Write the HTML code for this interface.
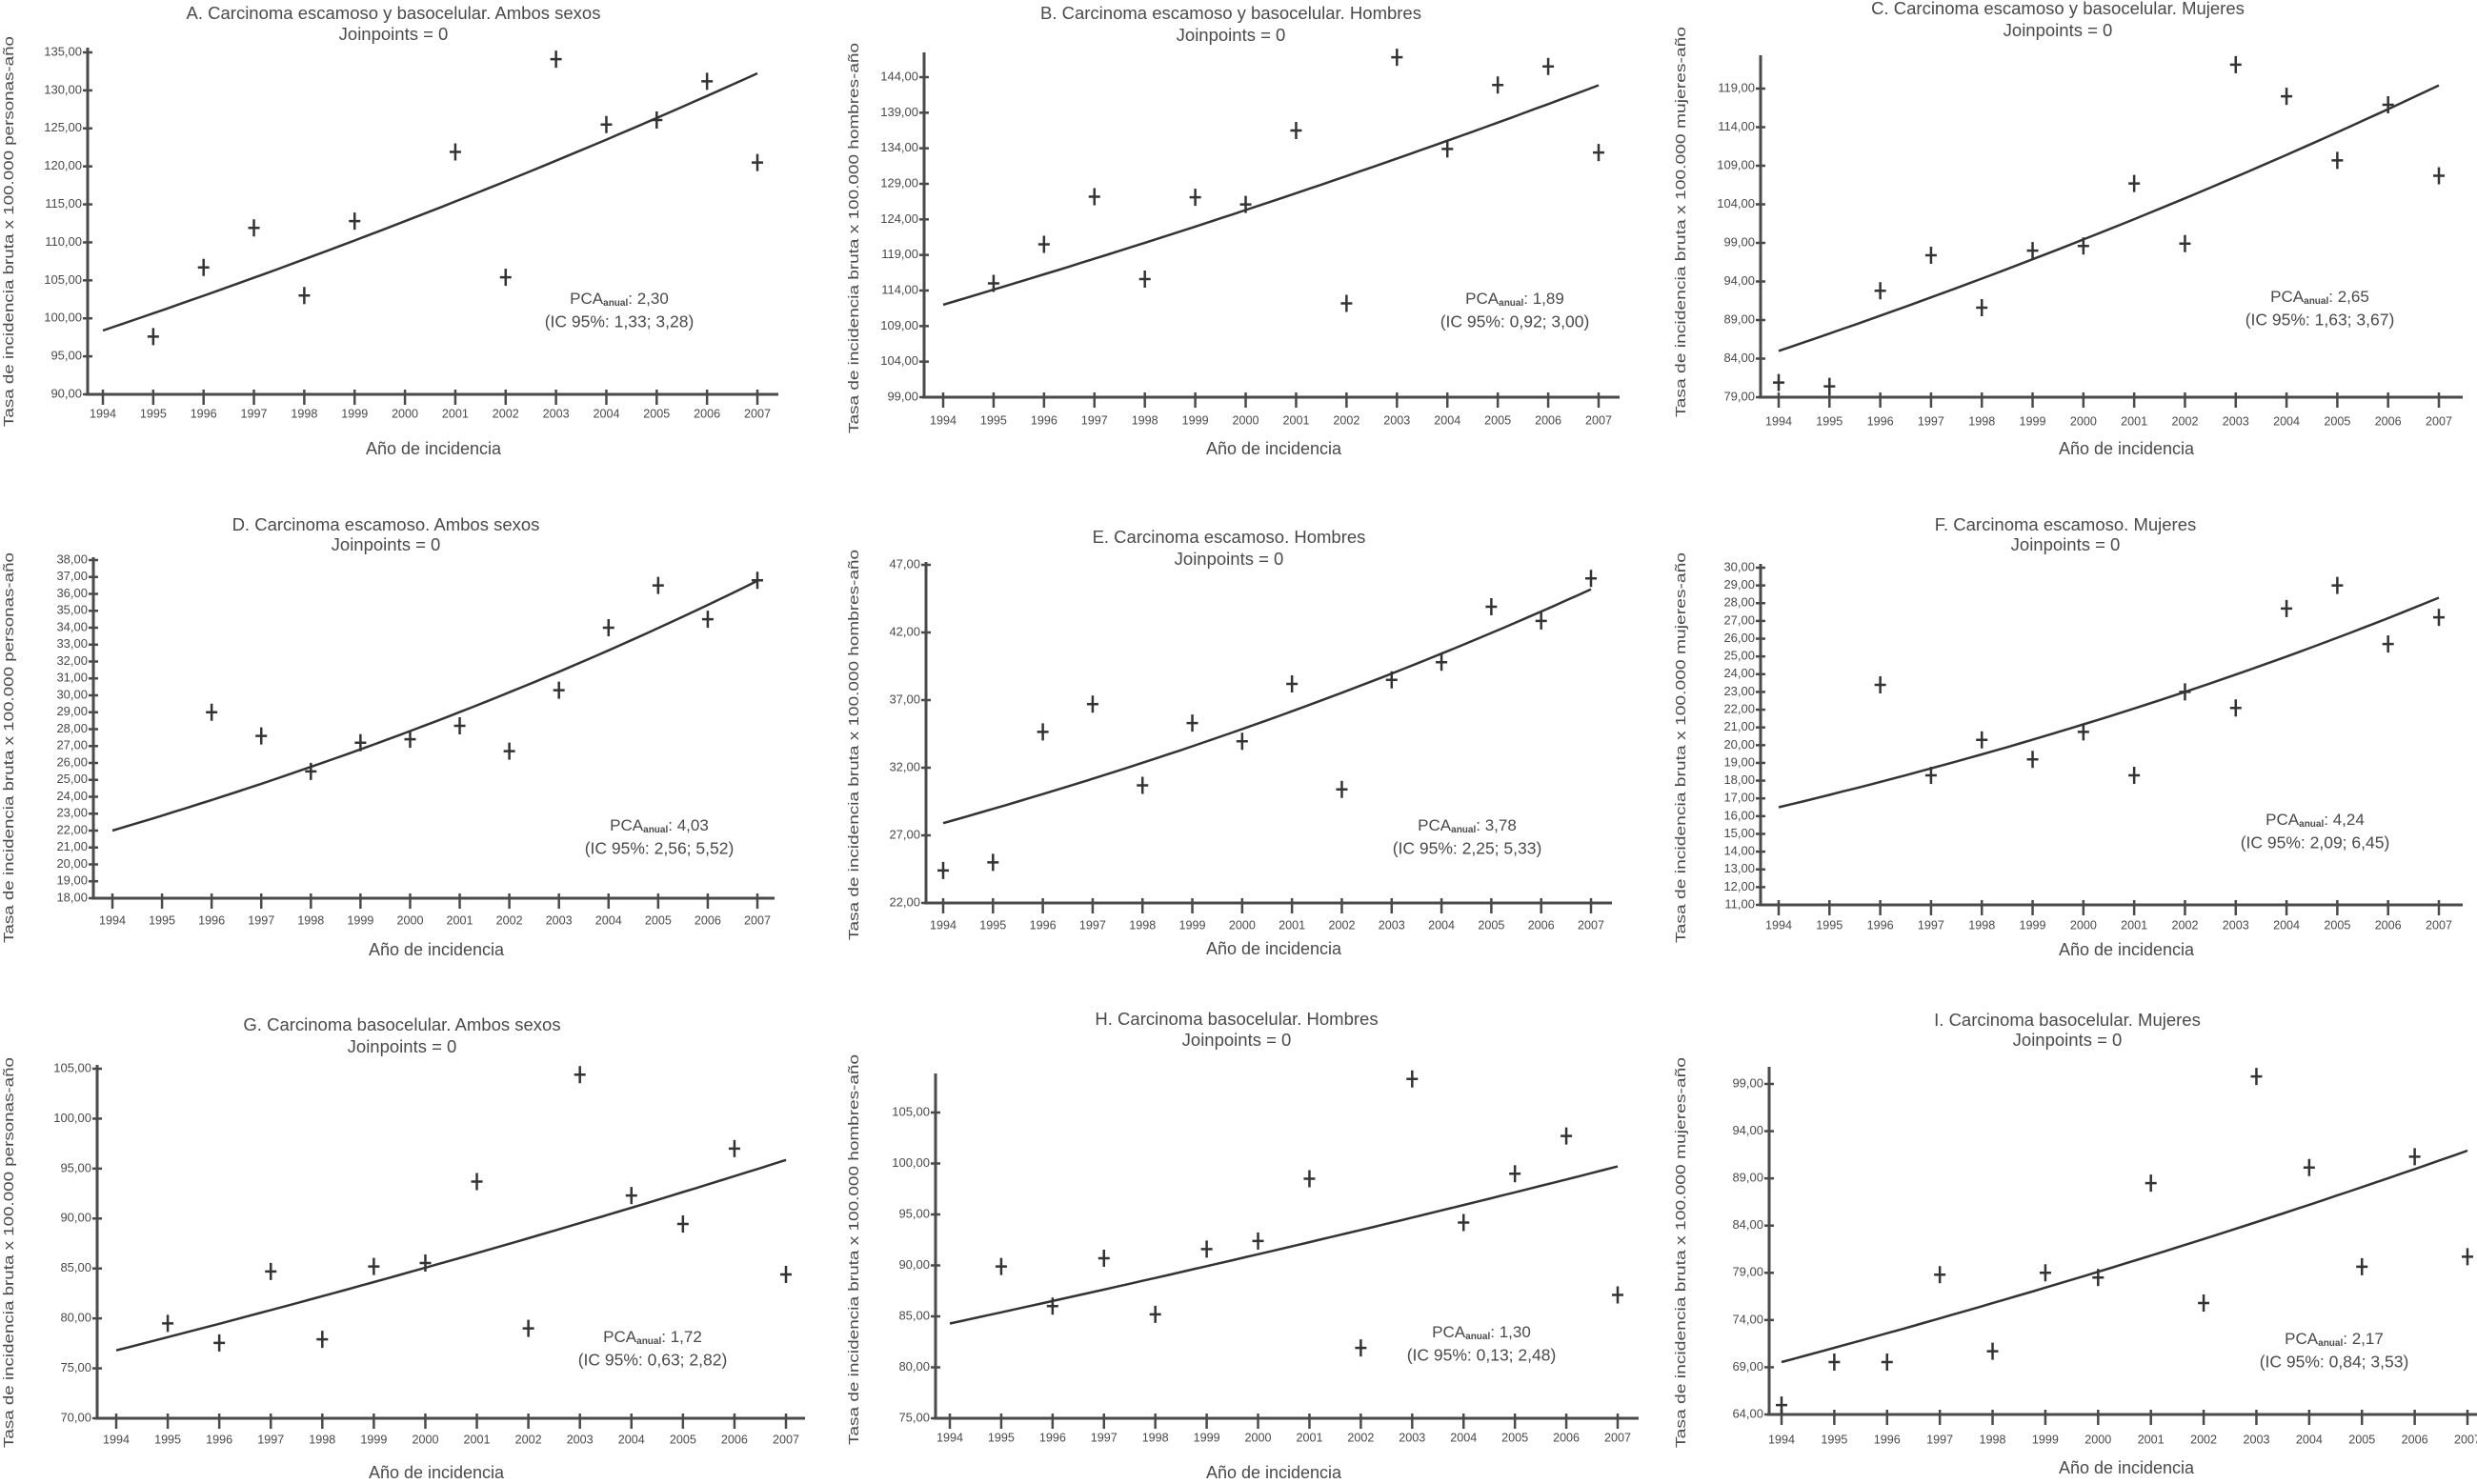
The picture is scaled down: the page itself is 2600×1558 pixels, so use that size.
<!DOCTYPE html>
<html><head><meta charset="utf-8"><style>
html,body{margin:0;padding:0;background:#fff;}
svg{display:block;font-family:"Liberation Sans",Arial,sans-serif;}
</style></head><body>
<svg id="fig" width="2600" height="1558" viewBox="0 0 2600 1558" xmlns="http://www.w3.org/2000/svg"></svg>
<script>
// ---- data ----
const years = [1994,1995,1996,1997,1998,1999,2000,2001,2002,2003,2004,2005,2006,2007];
const yearLabels = ["1994","1995","1996","1997","1998","1999","2000","2001","2002","2003","2004","2005","2006","2007"];
const valuesA = [null,97.6,106.7,111.9,103.0,112.8,null,121.9,105.4,134.1,125.5,126.1,131.2,120.5];
const valuesB = [null,115.0,120.5,127.2,115.6,127.1,126.1,136.5,112.2,146.8,133.9,142.9,145.5,133.4];
const valuesC = [80.9,80.4,92.8,97.4,90.6,98.0,98.6,106.7,98.9,122.1,118.0,109.7,116.9,107.7];
const valuesD = [null,null,29.0,27.6,25.5,27.2,27.4,28.2,26.7,30.3,34.0,36.5,34.5,36.8];
const valuesE = [24.4,25.0,34.65,36.7,30.7,35.3,33.95,38.2,30.4,38.5,39.8,43.9,42.85,46.0];
const valuesF = [null,null,23.4,18.3,20.3,19.2,20.75,18.3,23.0,22.1,27.7,29.0,25.7,27.2];
const valuesG = [null,79.5,77.55,84.7,77.9,85.2,85.55,93.7,79.0,104.4,92.3,89.45,97.0,84.4];
const valuesH = [null,89.9,86.0,90.7,85.2,91.6,92.4,98.5,81.9,108.3,94.2,99.0,102.7,87.1];
const valuesI = [65.0,69.55,69.55,78.8,70.7,79.0,78.5,88.5,75.8,99.8,90.15,79.65,91.3,80.7];
const trendStart = [98.4,112.0,85.0,22.0,27.9,16.5,76.8,84.3,69.55];
const apc = [2.30,1.89,2.65,4.03,3.78,4.24,1.72,1.30,2.17];
const apcLabels = ["2,30","1,89","2,65","4,03","3,78","4,24","1,72","1,30","2,17"];
const ciLabels = ["(IC 95%: 1,33; 3,28)","(IC 95%: 0,92; 3,00)","(IC 95%: 1,63; 3,67)","(IC 95%: 2,56; 5,52)","(IC 95%: 2,25; 5,33)","(IC 95%: 2,09; 6,45)","(IC 95%: 0,63; 2,82)","(IC 95%: 0,13; 2,48)","(IC 95%: 0,84; 3,53)"];
const titles = ["A. Carcinoma escamoso y basocelular. Ambos sexos","B. Carcinoma escamoso y basocelular. Hombres","C. Carcinoma escamoso y basocelular. Mujeres","D. Carcinoma escamoso. Ambos sexos","E. Carcinoma escamoso. Hombres","F. Carcinoma escamoso. Mujeres","G. Carcinoma basocelular. Ambos sexos","H. Carcinoma basocelular. Hombres","I. Carcinoma basocelular. Mujeres"];
const ticksA = [90,95,100,105,110,115,120,125,130,135];
const ticksB = [99,104,109,114,119,124,129,134,139,144];
const ticksC = [79,84,89,94,99,104,109,114,119];
const ticksD = [18,19,20,21,22,23,24,25,26,27,28,29,30,31,32,33,34,35,36,37,38];
const ticksE = [22,27,32,37,42,47];
const ticksF = [11,12,13,14,15,16,17,18,19,20,21,22,23,24,25,26,27,28,29,30];
const ticksG = [70,75,80,85,90,95,100,105];
const ticksH = [75,80,85,90,95,100,105];
const ticksI = [64,69,74,79,84,89,94,99];
const yLabelSuffix = ["personas-año","hombres-año","mujeres-año"];

// ---- layout (pixels) ----
const layout = [
 {id:"a",ax:92,yMinPx:414,yMaxPx:55,top:50,x0:108,x1:795,xEnd:817,tx:413,ty:15,jy:37,yy:435,xt:472,xtx:455,ylx:10,yly:243,px:650,py:315},
 {id:"b",ax:970,yMinPx:417,yMaxPx:81,top:55,x0:990,x1:1678,xEnd:1700,tx:1292,ty:15,jy:38,yy:442,xt:472,xtx:1337,ylx:897,yly:250,px:1590,py:315},
 {id:"c",ax:1848,yMinPx:417,yMaxPx:93,top:58,x0:1867,x1:2560,xEnd:2585,tx:2160,ty:10,jy:33,yy:443,xt:472,xtx:2232,ylx:1765,yly:233,px:2435,py:313},
 {id:"d",ax:98,yMinPx:943,yMaxPx:588,top:585,x0:118,x1:795,xEnd:813,tx:405,ty:552,jy:573,yy:967,xt:998,xtx:458,ylx:10,yly:785,px:692,py:868},
 {id:"e",ax:972,yMinPx:948,yMaxPx:593,top:590,x0:990,x1:1670,xEnd:1692,tx:1290,ty:565,jy:588,yy:972,xt:997,xtx:1337,ylx:897,yly:782,px:1540,py:868},
 {id:"f",ax:1848,yMinPx:950,yMaxPx:596,top:592,x0:1867,x1:2560,xEnd:2585,tx:2168,ty:552,jy:573,yy:972,xt:998,xtx:2232,ylx:1765,yly:785,px:2430,py:862},
 {id:"g",ax:102,yMinPx:1489,yMaxPx:1122,top:1118,x0:122,x1:825,xEnd:845,tx:422,ty:1077,jy:1100,yy:1512,xt:1547,xtx:458,ylx:10,yly:1315,px:685,py:1405},
 {id:"h",ax:982,yMinPx:1489,yMaxPx:1168,top:1127,x0:997,x1:1698,xEnd:1720,tx:1298,ty:1071,jy:1093,yy:1510,xt:1547,xtx:1337,ylx:897,yly:1312,px:1555,py:1400},
 {id:"i",ax:1857,yMinPx:1485,yMaxPx:1138,top:1120,x0:1870,x1:2590,xEnd:2600,tx:2170,ty:1072,jy:1093,yy:1512,xt:1542,xtx:2232,ylx:1765,yly:1315,px:2450,py:1407}
];
const allValues = [valuesA,valuesB,valuesC,valuesD,valuesE,valuesF,valuesG,valuesH,valuesI];
const allTicks = [ticksA,ticksB,ticksC,ticksD,ticksE,ticksF,ticksG,ticksH,ticksI];

const NS = "http://www.w3.org/2000/svg";
const fig = document.getElementById('fig');
const C = "#4a4a4a";
function mk(tag, attrs, parent){
  const e = document.createElementNS(NS, tag);
  for (const k in attrs) e.setAttribute(k, attrs[k]);
  parent.appendChild(e);
  return e;
}
function fmt(v){ return v.toFixed(2).replace('.', ','); }

layout.forEach((L, i) => {
  const vals = allValues[i], ticks = allTicks[i];
  const yMin = ticks[0], yMax = ticks[ticks.length-1];
  const ys = v => L.yMinPx + (v - yMin) / (yMax - yMin) * (L.yMaxPx - L.yMinPx);
  const xs = yr => L.x0 + (yr - years[0]) / (years[years.length-1] - years[0]) * (L.x1 - L.x0);

  const g = mk('g', {}, fig);
  
  

  const t = mk('text', {x:L.tx, y:L.ty, 'text-anchor':'middle', 'dominant-baseline':'middle', 'font-size':18.5, fill:C}, g);
  t.textContent = titles[i];
  
  
  const j = mk('text', {x:L.tx, y:L.jy, 'text-anchor':'middle', 'dominant-baseline':'middle', 'font-size':18.5, fill:C}, g);
  j.textContent = "Joinpoints = 0";
  
  

  const ya = mk('line', {x1:L.ax, y1:L.top, x2:L.ax, y2:L.yMinPx, stroke:C, 'stroke-width':3}, g);
  
  
  const xa = mk('line', {x1:L.ax-2, y1:L.yMinPx, x2:L.xEnd, y2:L.yMinPx, stroke:C, 'stroke-width':3}, g);
  
  

  ticks.forEach(v => {
    const y = ys(v);
    const tk = mk('line', {x1:L.ax-5, y1:y, x2:L.ax+5, y2:y, stroke:C, 'stroke-width':2.5}, g);
    
    
    const lb = mk('text', {x:L.ax-6, y:y, 'text-anchor':'end', 'dominant-baseline':'middle', 'font-size':13, fill:C}, g);
    lb.textContent = fmt(v);
    
    
  });
  years.forEach((yr, k) => {
    const x = xs(yr);
    const tk = mk('line', {x1:x, y1:L.yMinPx-5, x2:x, y2:L.yMinPx+11, stroke:C, 'stroke-width':2.5}, g);
    
    
    const lb = mk('text', {x:x, y:L.yy, 'text-anchor':'middle', 'dominant-baseline':'middle', 'font-size':13, fill:C, textLength:28, lengthAdjust:'spacingAndGlyphs'}, g);
    lb.textContent = yearLabels[k];
    
    
  });

  const xt = mk('text', {x:L.xtx, y:L.xt, 'text-anchor':'middle', 'dominant-baseline':'middle', 'font-size':18, fill:C}, g);
  xt.textContent = "Año de incidencia";
  
  

  const yl = mk('text', {x:0, y:0, 'text-anchor':'middle', 'dominant-baseline':'middle', 'font-size':15, fill:C, transform:'translate(' + L.ylx + ',' + L.yly + ') rotate(-90)', textLength:410, lengthAdjust:'spacingAndGlyphs'}, g);
  yl.textContent = "Tasa de incidencia bruta x 100.000 " + yLabelSuffix[i % 3];
  
  

  let pts = [];
  for (let s = 0; s <= 52; s++) {
    const tt = s / 4;
    pts.push(xs(years[0] + tt).toFixed(1) + ',' + ys(trendStart[i] * Math.pow(1 + apc[i] / 100, tt)).toFixed(1));
  }
  const tl = mk('polyline', {points:pts.join(' '), fill:'none', stroke:'#333', 'stroke-width':2.5}, g);
  
  

  vals.forEach((v, k) => {
    if (v === null) return;
    const x = xs(years[k]), y = ys(v);
    const p = mk('path', {d:'M' + (x-6) + ' ' + y + 'H' + (x+6) + 'M' + x + ' ' + (y-9) + 'V' + (y+9), stroke:'#333', 'stroke-width':2.5, fill:'none'}, g);
    
    
  });

  const pa = mk('text', {x:L.px, y:L.py, 'text-anchor':'middle', 'dominant-baseline':'middle', 'font-size':17, fill:C}, g);
  
  
  const s1 = mk('tspan', {}, pa); s1.textContent = "PCA";
  const s2 = mk('tspan', {'font-size':10, 'font-weight':'bold', dy:3}, pa); s2.textContent = "anual";
  const s3 = mk('tspan', {dy:-3}, pa); s3.textContent = ": " + apcLabels[i];
  const ci = mk('text', {x:L.px, y:L.py + 24, 'text-anchor':'middle', 'dominant-baseline':'middle', 'font-size':17.5, fill:C}, g);
  ci.textContent = ciLabels[i];
  
  
});
</script>
</body></html>
